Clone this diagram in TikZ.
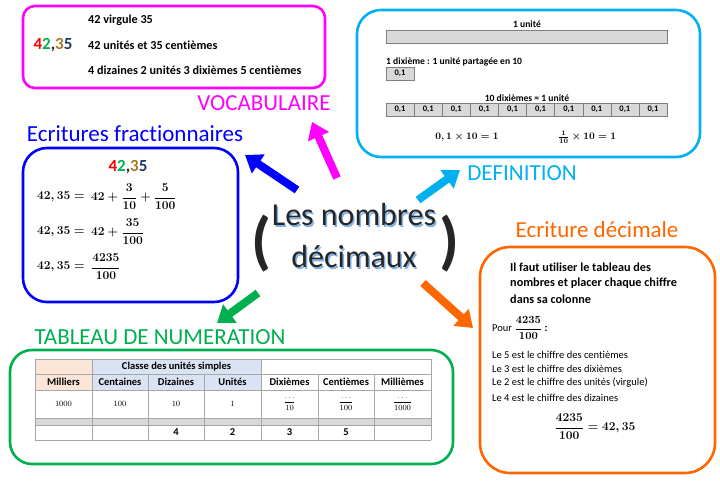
\documentclass[tikz,border=0pt]{standalone}
\usepackage{amsmath}
\usepackage{fontspec}
\setmainfont{Carlito}[Ligatures=NoCommon]
\usetikzlibrary{arrows.meta}
\definecolor{rose}{HTML}{FF00FF}
\definecolor{ciel}{HTML}{00B0F0}
\definecolor{bleuf}{HTML}{0000FF}
\definecolor{orange}{HTML}{FF6600}
\definecolor{vert}{HTML}{00B050}
\definecolor{peche}{HTML}{FBE5D6}
\definecolor{bleuc}{HTML}{DAE3F3}
\definecolor{gris}{HTML}{D9D9D9}
\definecolor{trait}{HTML}{7F7F7F}
\definecolor{brun}{HTML}{A6791E}
\definecolor{nuit}{HTML}{1F3864}
\definecolor{encre}{HTML}{262626}
\definecolor{ombre}{HTML}{7FB2E5}
\newcommand{\nombrecol}{{\color{red}4}{\color{vert}2}{\color{encre},}{\color{brun}3}{\color{nuit}5}}
\tikzset{cadre/.style={draw=#1,line width=2.6pt,rounded corners=24pt},
    titre/.style={text=#1,font=\fontsize{23}{26}\selectfont,inner sep=0pt},
    fleche/.style={draw=#1,line width=8pt,-{Triangle[length=16pt,width=22pt]}},
    texte/.style={font=\fontsize{12.2}{14}\selectfont\bfseries,inner sep=0pt},
    petit/.style={font=\fontsize{9.6}{11}\selectfont\bfseries,inner sep=0pt},
    tete/.style={font=\fontsize{10.5}{12}\selectfont\bfseries,inner sep=0pt},
    fin/.style={font=\fontsize{10.5}{12}\selectfont,inner sep=0pt},
    formule/.style={font=\fontsize{#1}{#1}\selectfont\boldmath,inner sep=0pt},
    caseg/.style={draw=trait,fill=gris,minimum width=28.1pt,minimum height=13pt,
        inner sep=0pt,font=\fontsize{8.5}{9}\selectfont\bfseries},
    grille/.style={draw=black!35,line width=0.8pt},
    valeur/.style={font=\fontsize{8}{9}\selectfont,inner sep=0pt},
    centre/.style={font=\fontsize{32}{36}\selectfont,inner sep=0pt},
    x=1pt,y=-1pt}

\begin{document}
\begin{tikzpicture}
    \useasboundingbox (0,0) rectangle (720,488);
    % vocabulaire
    \node[cadre=rose,rounded corners=12pt,minimum width=302pt,minimum height=82pt] (vocab) at (174,47) {};
    \node[font=\fontsize{17}{20}\selectfont\bfseries,inner sep=0pt] (voc0) at (53,45) {\nombrecol};
    \node[texte,anchor=west] (voc1) at (88,20) {42 virgule 35};
    \node[texte,anchor=west] (voc2) at (88,45) {42 unités et 35 centièmes};
    \node[texte,anchor=west] (voc3) at (88,70) {4 dizaines 2 unités 3 dixièmes 5 centièmes};
    \node[titre=rose] (vocT) at (264,103) {VOCABULAIRE};
    % definition
    \node[cadre=ciel,minimum width=343pt,minimum height=147pt] (defin) at (528.5,83.5) {};
    \node[petit] (unite) at (527,24) {1 unité};
    \node[caseg,minimum width=281pt] (barre) at (526.5,36.5) {};
    \node[petit,anchor=west] (dixi) at (386,62) {1 dixième : 1 unité partagée en 10};
    \node[caseg] (seul) at (400.05,73.5) {0,1};
    \node[petit] (dix) at (527,98) {10 dixièmes = 1 unité};
    \foreach \i in {0,...,9}{
        \pgfmathsetmacro{\xc}{400.05+28.1*\i}
        \node[caseg] (d\i) at (\xc,109.5) {0,1};
    }
    \node[formule=10] (m1) at (467,137) {$0,1\times10=1$};
    \node[formule=10] (m2) at (587,137) {$\frac{1}{10}\times10=1$};
    \node[titre=ciel] (defT) at (522,173) {DEFINITION};
    % ecritures fractionnaires
    \node[titre=bleuf] (fracT) at (135,134) {Ecritures fractionnaires};
    \node[cadre=bleuf,minimum width=215pt,minimum height=154pt] (frac) at (130.5,225) {};
    \node[font=\fontsize{17}{20}\selectfont\bfseries,inner sep=0pt] (frac0) at (128,167) {\nombrecol};
    \node[formule=12,anchor=west] (g1) at (37,197) {$42,35=$};
    \node[formule=12,anchor=west] (r1) at (91,197) {$42+\dfrac{3}{10}+\dfrac{5}{100}$};
    \node[formule=12,anchor=west] (g2) at (37,232) {$42,35=$};
    \node[formule=12,anchor=west] (r2) at (91,232) {$42+\dfrac{35}{100}$};
    \node[formule=12,anchor=west] (g3) at (37,267) {$42,35=$};
    \node[formule=12,anchor=west] (r3) at (91,267) {$\dfrac{4235}{100}$};
    % ecriture decimale
    \node[titre=orange] (decT) at (597,230) {Ecriture décimale};
    \node[cadre=orange,rounded corners=30pt,minimum width=235pt,minimum height=226pt] (dec) at (597.5,360) {};
    \node[texte,anchor=west] (e1) at (510,267) {Il faut utiliser le tableau des};
    \node[texte,anchor=west] (e2) at (510,283) {nombres et placer chaque chiffre};
    \node[texte,anchor=west] (e3) at (510,299) {dans sa colonne};
    \node[fin,anchor=west] (pour) at (492,328) {Pour};
    \node[formule=11,anchor=west] (pourf) at (pour.east) {$\,\dfrac{4235}{100}$ \textbf{:}};
    \node[fin,anchor=west] (le1) at (492,355) {Le 5 est le chiffre des centièmes};
    \node[fin,anchor=west] (le2) at (492,369) {Le 3 est le chiffre des dixièmes};
    \node[fin,anchor=west] (le3) at (492,383) {Le 2 est le chiffre des unités (virgule)};
    \node[fin,anchor=west] (le4) at (492,398) {Le 4 est le chiffre des dizaines};
    \node[formule=13] (res) at (595,427) {$\dfrac{4235}{100}=42,35$};
    % tableau de numeration
    \node[titre=vert] (numT) at (160,337) {TABLEAU DE NUMERATION};
    \node[cadre=vert,rounded corners=22pt,minimum width=443pt,minimum height=114pt] (num) at (231.5,407) {};
    \fill[peche] (35,359) rectangle (92,390);
    \fill[bleuc] (92,359) rectangle (261,390);
    \fill[gris] (35,418) rectangle (431,425);
    \foreach \y in {359,374,390,418,425,440}{
        \draw[grille] (35,\y) -- (431,\y);
    }
    \foreach \x in {35,92,261,431}{
        \draw[grille] (\x,359) -- (\x,440);
    }
    \foreach \x in {148,204,318,374}{
        \draw[grille] (\x,374) -- (\x,440);
    }
    \node[tete] (classe) at (176.5,366.5) {Classe des unités simples};
    \foreach \x/\t [count=\k] in {63.5/Milliers,120/Centaines,176/Dizaines,232.5/Unités,289.5/Dixièmes,346/Centièmes,402.5/Millièmes}{
        \node[tete] (h\k) at (\x,382) {\t};
    }
    \node[valeur] (v1) at (63.5,404) {$1000$};
    \node[valeur] (v2) at (120,404) {$100$};
    \node[valeur] (v3) at (176,404) {$10$};
    \node[valeur] (v4) at (232.5,404) {$1$};
    \node[valeur] (v5) at (289.5,404) {$\dfrac{\dots}{10}$};
    \node[valeur] (v6) at (346,404) {$\dfrac{\dots}{100}$};
    \node[valeur] (v7) at (402.5,404) {$\dfrac{\dots}{1000}$};
    \foreach \x/\t [count=\k] in {176/4,232.5/2,289.5/3,346/5}{
        \node[tete] (c\k) at (\x,432.5) {\t};
    }
    % centre
    \node[centre,text=ombre] (ombre1) at (355.5,216.5) {Les nombres};
    \node[centre,text=ombre] (ombre2) at (355.5,258.5) {décimaux};
    \node[centre,text=encre] (titre1) at (354,215) {Les nombres};
    \node[centre,text=encre] (titre2) at (354,257) {décimaux};
    \node[font=\fontsize{64}{66}\selectfont\bfseries,text=encre,inner sep=0pt] (pg) at (261,244) {(};
    \node[font=\fontsize{64}{66}\selectfont\bfseries,text=encre,inner sep=0pt] (pd) at (449,244) {)};
    % fleches
    \coordinate (a1) at (337,178); \coordinate (b1) at (312,122);
    \coordinate (a2) at (297,190); \coordinate (b2) at (245,155);
    \coordinate (a3) at (418,200); \coordinate (b3) at (460,170);
    \coordinate (a4) at (423,283); \coordinate (b4) at (473,328);
    \coordinate (a5) at (258,293); \coordinate (b5) at (217,323);
    \draw[fleche=rose] (a1) -- (b1);
    \draw[fleche=bleuf] (a2) -- (b2);
    \draw[fleche=ciel] (a3) -- (b3);
    \draw[fleche=orange] (a4) -- (b4);
    \draw[fleche=vert] (a5) -- (b5);
\end{tikzpicture}
\end{document}
